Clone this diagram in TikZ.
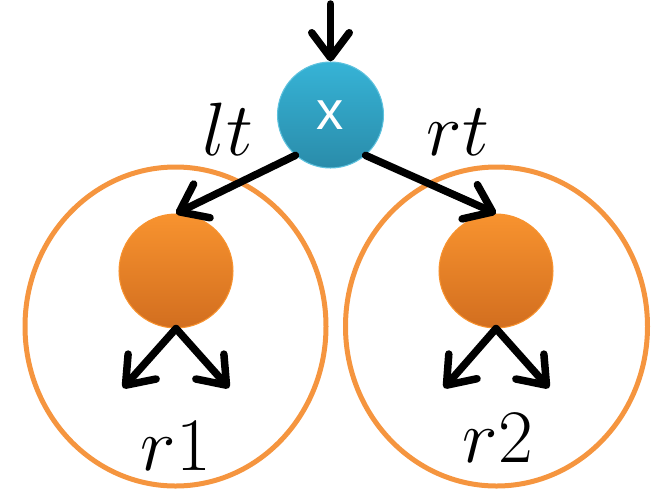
\RequirePackage{fix-cm}
\documentclass[tikz,border=0pt]{standalone}
\usepackage{fontspec}
\newfontfamily\labelsans{Liberation Sans}
\usepackage{tikz}
\usetikzlibrary{arrows.meta}
\usepackage{xcolor}

\definecolor{nodeblue}{HTML}{36B3D6}
\definecolor{nodeblueD}{HTML}{2A8CAA}
\definecolor{nodeorange}{HTML}{F8932F}
\definecolor{nodeorangeD}{HTML}{D26E1F}
\definecolor{ringorange}{HTML}{F5953F}

\begin{document}
\begin{tikzpicture}[
    x=0.02cm, y=-0.02cm,
    rootnode/.style={circle, minimum size=2.12cm, inner sep=0pt, top color=nodeblue, bottom color=nodeblueD, draw=nodeblue!80!white, line width=0.6pt, text=white, font=\labelsans\fontsize{31}{36}\selectfont},
    childnode/.style={circle, minimum size=2.28cm, inner sep=0pt, top color=nodeorange, bottom color=nodeorangeD, draw=nodeorange, line width=0.6pt},
    region/.style={draw=ringorange, line width=0.1cm},
    arrow/.style={-{Straight Barb[length=0.5cm, width=0.75cm, line cap=round, line join=round]}, line width=0.15cm, line cap=round},
    lbl/.style={anchor=base, inner sep=0pt, font=\fontsize{43}{50}\selectfont}
]
    \useasboundingbox (0,0) rectangle (656,491);

    % Regions
    \draw[region] (175.5,326.5) ellipse [x radius=150.5, y radius=159.5];
    \draw[region] (496.5,326.5) ellipse [x radius=151, y radius=159.5];

    % Nodes
    \node[rootnode] (root) at (330.5,115) {x};
    \node[childnode] (left) at (176,271) {};
    \node[childnode] (right) at (496,271) {};

    % Free ends
    \coordinate (in) at (330.5,4);
    \coordinate (leftA) at (123,388);
    \coordinate (leftB) at (229,388);
    \coordinate (rightA) at (444,388);
    \coordinate (rightB) at (549,388);

    % Edges
    \draw[arrow] (in) -- (root.north);
    \draw[arrow] (root.229) -- (left.north);
    \draw[arrow] (root.311) -- (right.north);
    \draw[arrow] (left.south) -- (leftA);
    \draw[arrow] (left.south) -- (leftB);
    \draw[arrow] (right.south) -- (rightA);
    \draw[arrow] (right.south) -- (rightB);

    % Labels
    \node[lbl] (lt) at (228,155) {$lt$};
    \node[lbl] (rt) at (458,155) {$rt$};
    \node[lbl] (r1) at (176,470) {$r1$};
    \node[lbl] (r2) at (498,462) {$r2$};
\end{tikzpicture}
\end{document}
